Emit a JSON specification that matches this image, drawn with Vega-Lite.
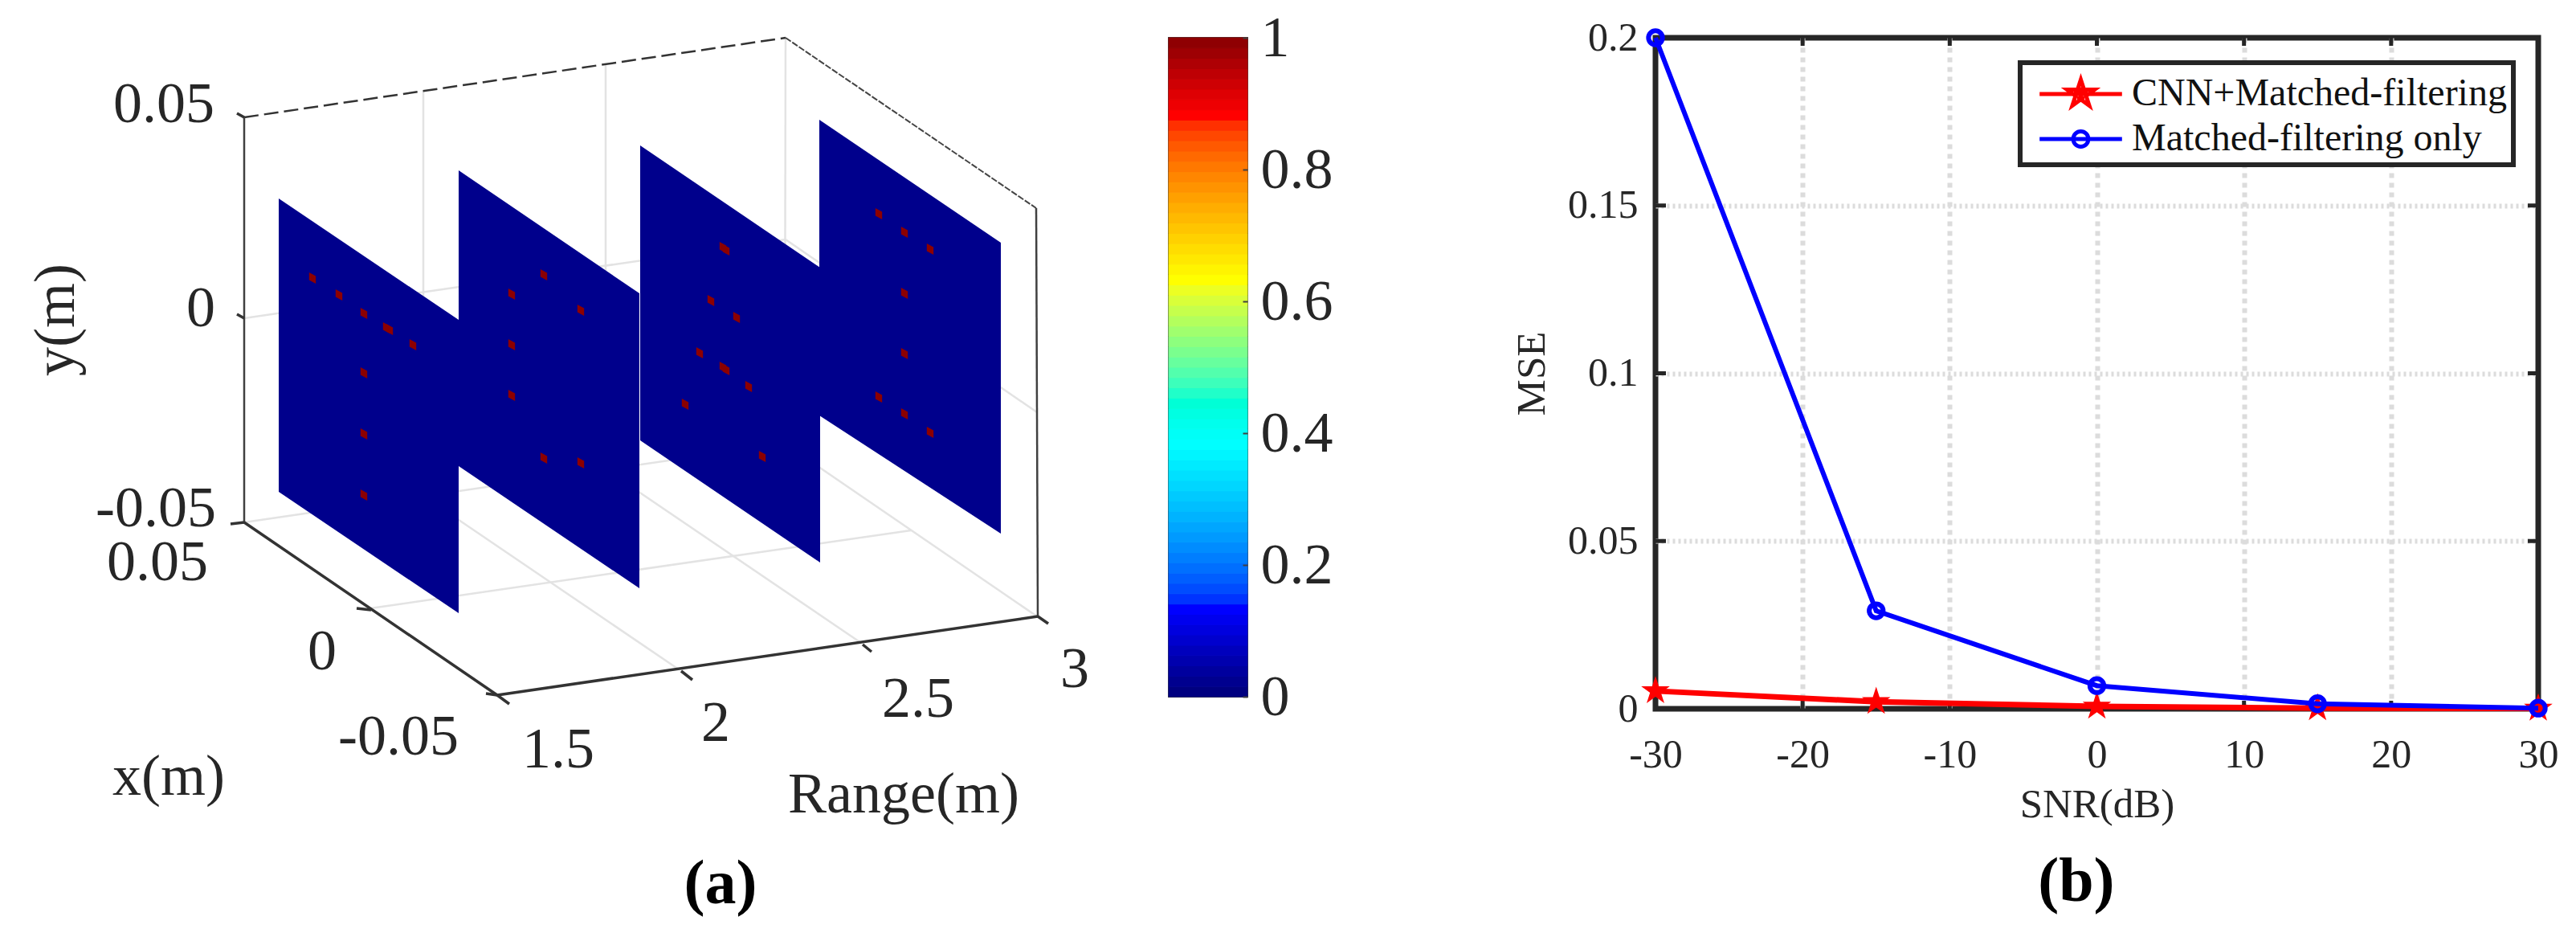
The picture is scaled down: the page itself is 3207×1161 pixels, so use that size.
{"$schema":"https://vega.github.io/schema/vega-lite/v6.json","padding":0,"autosize":{"type":"pad"},"background":"white","config":{"font":"Liberation Serif","legend":{"strokeWidth":6}},"bounds":"flush","spacing":0,"resolve":{"scale":{"color":"independent","shape":"independent"},"legend":{"color":"independent","shape":"independent"}},"hconcat":[{"width":1455,"height":1161,"view":{"stroke":null},"encoding":{"x":{"field":"u","type":"quantitative","scale":{"domain":[0,1455],"nice":false,"zero":false},"axis":null},"y":{"field":"v","type":"quantitative","scale":{"domain":[1161,0],"nice":false,"zero":false},"axis":null}},"layer":[{"data":{"values":[{"u":527,"v":113,"u2":527,"v2":617},{"u":754,"v":80,"u2":754,"v2":584},{"u":978,"v":47,"u2":977,"v2":552},{"u":304,"v":396,"u2":978,"v2":298},{"u":978,"v":298,"u2":1291,"v2":513},{"u":461,"v":757,"u2":1134,"v2":660},{"u":527,"v":617,"u2":845,"v2":833},{"u":754,"v":584,"u2":1072,"v2":800},{"u":304,"v":650,"u2":977,"v2":552},{"u":977,"v":552,"u2":1291,"v2":767}]},"mark":{"type":"rule","color":"#e3e3e3","strokeWidth":2.5},"encoding":{"x2":{"field":"u2"},"y2":{"field":"v2"}}},{"data":{"values":[{"u":304,"v":146,"u2":978,"v2":47}]},"mark":{"type":"rule","color":"#333333","strokeWidth":2.5,"strokeDash":[18,7]},"encoding":{"x2":{"field":"u2"},"y2":{"field":"v2"}}},{"data":{"values":[{"u":978,"v":47,"u2":1290,"v2":259}]},"mark":{"type":"rule","color":"#444444","strokeWidth":2,"strokeDash":[8,2]},"encoding":{"x2":{"field":"u2"},"y2":{"field":"v2"}}},{"data":{"values":[{"u":1290,"v":259,"u2":1292,"v2":767},{"u":304,"v":146,"u2":304,"v2":650}]},"mark":{"type":"rule","color":"#404040","strokeWidth":2.5},"encoding":{"x2":{"field":"u2"},"y2":{"field":"v2"}}},{"data":{"values":[{"u":304,"v":650,"u2":619,"v2":865},{"u":619,"v":865,"u2":1292,"v2":767},{"u":304,"v":146,"u2":295,"v2":141},{"u":304,"v":396,"u2":295,"v2":391},{"u":304,"v":650,"u2":287,"v2":652},{"u":462,"v":759,"u2":444,"v2":757},{"u":619,"v":865,"u2":605,"v2":863},{"u":619,"v":865,"u2":634,"v2":876},{"u":848,"v":835,"u2":862,"v2":846},{"u":1074,"v":802,"u2":1085,"v2":811},{"u":1292,"v":767,"u2":1305,"v2":776}]},"mark":{"type":"rule","color":"#333333","strokeWidth":3.5},"encoding":{"x2":{"field":"u2"},"y2":{"field":"v2"}}},{"data":{"values":[{"plane":1,"u":347,"v":247,"bottom":612},{"plane":1,"u":571,"v":398,"bottom":763},{"plane":2,"u":571,"v":212,"bottom":580},{"plane":2,"u":796,"v":365,"bottom":732},{"plane":3,"u":797,"v":181,"bottom":548},{"plane":3,"u":1021,"v":333,"bottom":700},{"plane":4,"u":1020,"v":149,"bottom":517},{"plane":4,"u":1246,"v":302,"bottom":664}]},"mark":{"type":"area","color":"#00008c"},"encoding":{"y2":{"field":"bottom"},"detail":{"field":"plane"}}},{"data":{"values":[{"u":389,"v":346},{"u":422,"v":367},{"u":453,"v":390},{"u":481,"v":408},{"u":485,"v":410},{"u":514,"v":429},{"u":453,"v":464},{"u":453,"v":540},{"u":453,"v":616},{"u":677,"v":342},{"u":637,"v":366},{"u":723,"v":386},{"u":637,"v":429},{"u":637,"v":492},{"u":677,"v":570},{"u":723,"v":576},{"u":900,"v":308},{"u":904,"v":311},{"u":885,"v":374},{"u":917,"v":395},{"u":871,"v":439},{"u":900,"v":457},{"u":904,"v":460},{"u":932,"v":481},{"u":853,"v":503},{"u":949,"v":568},{"u":1094,"v":266},{"u":1126,"v":289},{"u":1158,"v":310},{"u":1126,"v":365},{"u":1126,"v":440},{"u":1094,"v":494},{"u":1126,"v":515},{"u":1158,"v":538}]},"mark":{"type":"point","filled":true,"opacity":1,"color":"#8c0000","size":70,"shape":"M-1,-1.7L1,-0.6L1,1.7L-1,0.6Z"}},{"data":{"values":[{"label":"0.05","u":204,"v":130},{"label":"0","u":250,"v":384},{"label":"-0.05","u":194,"v":633},{"label":"0.05","u":196,"v":700},{"label":"0","u":401,"v":811},{"label":"-0.05","u":496,"v":917},{"label":"1.5","u":695,"v":933},{"label":"2","u":891,"v":900},{"label":"2.5","u":1143,"v":870},{"label":"3","u":1338,"v":833},{"label":"x(m)","u":210,"v":967},{"label":"Range(m)","u":1125,"v":989}]},"mark":{"type":"text","font":"Liberation Serif","fontSize":72,"color":"#262626","baseline":"middle","align":"center"},"encoding":{"text":{"field":"label"}}},{"data":{"values":[{"label":"y(m)","u":70,"v":398}]},"mark":{"type":"text","font":"Liberation Serif","fontSize":72,"color":"#262626","baseline":"middle","align":"center","angle":270},"encoding":{"text":{"field":"label"}}},{"data":{"values":[{"label":"(a)","u":897,"v":1101}]},"mark":{"type":"text","font":"Liberation Serif","fontSize":78,"fontWeight":"bold","color":"#000000","baseline":"middle","align":"center"},"encoding":{"text":{"field":"label"}}}]},{"bounds":"flush","spacing":0,"resolve":{"scale":{"color":"independent","shape":"independent"},"legend":{"color":"independent","shape":"independent"}},"vconcat":[{"width":10,"height":47,"view":{"stroke":null},"data":{"values":[{"n":1}]},"mark":{"type":"point","opacity":0,"size":0}},{"bounds":"flush","spacing":508,"resolve":{"scale":{"color":"independent","shape":"independent"},"legend":{"color":"independent","shape":"independent"}},"hconcat":[{"width":98,"height":820,"view":{"stroke":"#404040","strokeWidth":2},"data":{"values":[{"lo":0,"hi":0.0156},{"lo":0.0156,"hi":0.0313},{"lo":0.0313,"hi":0.0469},{"lo":0.0469,"hi":0.0625},{"lo":0.0625,"hi":0.0781},{"lo":0.0781,"hi":0.0938},{"lo":0.0938,"hi":0.1094},{"lo":0.1094,"hi":0.125},{"lo":0.125,"hi":0.1406},{"lo":0.1406,"hi":0.1563},{"lo":0.1563,"hi":0.1719},{"lo":0.1719,"hi":0.1875},{"lo":0.1875,"hi":0.2031},{"lo":0.2031,"hi":0.2188},{"lo":0.2188,"hi":0.2344},{"lo":0.2344,"hi":0.25},{"lo":0.25,"hi":0.2656},{"lo":0.2656,"hi":0.2813},{"lo":0.2813,"hi":0.2969},{"lo":0.2969,"hi":0.3125},{"lo":0.3125,"hi":0.3281},{"lo":0.3281,"hi":0.3438},{"lo":0.3438,"hi":0.3594},{"lo":0.3594,"hi":0.375},{"lo":0.375,"hi":0.3906},{"lo":0.3906,"hi":0.4063},{"lo":0.4063,"hi":0.4219},{"lo":0.4219,"hi":0.4375},{"lo":0.4375,"hi":0.4531},{"lo":0.4531,"hi":0.4688},{"lo":0.4688,"hi":0.4844},{"lo":0.4844,"hi":0.5},{"lo":0.5,"hi":0.5156},{"lo":0.5156,"hi":0.5313},{"lo":0.5313,"hi":0.5469},{"lo":0.5469,"hi":0.5625},{"lo":0.5625,"hi":0.5781},{"lo":0.5781,"hi":0.5938},{"lo":0.5938,"hi":0.6094},{"lo":0.6094,"hi":0.625},{"lo":0.625,"hi":0.6406},{"lo":0.6406,"hi":0.6563},{"lo":0.6563,"hi":0.6719},{"lo":0.6719,"hi":0.6875},{"lo":0.6875,"hi":0.7031},{"lo":0.7031,"hi":0.7188},{"lo":0.7188,"hi":0.7344},{"lo":0.7344,"hi":0.75},{"lo":0.75,"hi":0.7656},{"lo":0.7656,"hi":0.7813},{"lo":0.7813,"hi":0.7969},{"lo":0.7969,"hi":0.8125},{"lo":0.8125,"hi":0.8281},{"lo":0.8281,"hi":0.8438},{"lo":0.8438,"hi":0.8594},{"lo":0.8594,"hi":0.875},{"lo":0.875,"hi":0.8906},{"lo":0.8906,"hi":0.9063},{"lo":0.9063,"hi":0.9219},{"lo":0.9219,"hi":0.9375},{"lo":0.9375,"hi":0.9531},{"lo":0.9531,"hi":0.9688},{"lo":0.9688,"hi":0.9844},{"lo":0.9844,"hi":1}]},"mark":{"type":"rect","strokeWidth":1},"encoding":{"y":{"field":"lo","type":"quantitative","scale":{"domain":[0,1],"nice":false,"zero":false},"axis":{"orient":"left","offset":-98,"title":null,"values":[0,0.2,0.4,0.6,0.8,1],"labelExpr":"'' + datum.value","domain":false,"grid":false,"tickSize":6,"tickWidth":2,"tickColor":"#404040","zindex":1,"labelPadding":-22,"labelFont":"Liberation Serif","labelFontSize":72,"labelColor":"#262626","labelBaseline":"middle","labelAlign":"left","labelOverlap":false,"labelBound":false,"labelFlush":false}},"y2":{"field":"hi"},"color":{"field":"lo","type":"quantitative","legend":null,"scale":{"domain":[0,0.125,0.375,0.625,0.875,1],"range":["#000080","#0000ff","#00ffff","#ffff00","#ff0000","#800000"]}},"stroke":{"field":"lo","type":"quantitative","legend":null,"scale":{"domain":[0,0.125,0.375,0.625,0.875,1],"range":["#000080","#0000ff","#00ffff","#ffff00","#ff0000","#800000"]}}}},{"width":1099,"height":835,"view":{"stroke":"#262626","strokeWidth":7},"data":{"values":[{"series":"CNN+Matched-filtering","snr":-30,"mse":0.0053},{"series":"CNN+Matched-filtering","snr":-15,"mse":0.0021},{"series":"CNN+Matched-filtering","snr":0,"mse":0.0007},{"series":"CNN+Matched-filtering","snr":15,"mse":0.0002},{"series":"CNN+Matched-filtering","snr":30,"mse":0.0001},{"series":"Matched-filtering only","snr":-30,"mse":0.2},{"series":"Matched-filtering only","snr":-15,"mse":0.0292},{"series":"Matched-filtering only","snr":0,"mse":0.0069},{"series":"Matched-filtering only","snr":15,"mse":0.0015},{"series":"Matched-filtering only","snr":30,"mse":0.0002}]},"resolve":{"axis":{"x":"independent","y":"independent"}},"layer":[{"mark":{"type":"rule","opacity":0},"encoding":{"x":{"field":"snr","type":"quantitative","scale":{"domain":[-30,30],"nice":false,"zero":false},"axis":{"orient":"bottom","title":null,"values":[-20,-10,0,10,20],"labels":false,"ticks":false,"domain":false,"grid":true,"gridColor":"#dcdcdc","gridWidth":6,"gridDash":[6,6]}},"y":{"field":"mse","type":"quantitative","scale":{"domain":[0,0.2],"nice":false,"zero":false},"axis":{"orient":"left","title":null,"values":[0.05,0.1,0.15],"labels":false,"ticks":false,"domain":false,"grid":true,"gridColor":"#dcdcdc","gridWidth":6,"gridDash":[3,4]}}}},{"mark":{"type":"rule","opacity":0},"encoding":{"x":{"field":"snr","type":"quantitative","axis":{"orient":"bottom","title":"SNR(dB)","values":[-30,-20,-10,0,10,20,30],"labelExpr":"'' + datum.value","domain":false,"grid":false,"ticks":false,"labelPadding":32,"labelFont":"Liberation Serif","labelFontSize":50,"labelColor":"#262626","labelOverlap":false,"labelFlush":false,"titleFont":"Liberation Serif","titleFontSize":51,"titleFontWeight":"normal","titleColor":"#262626","titlePadding":12}},"y":{"field":"mse","type":"quantitative","axis":{"orient":"left","title":"MSE","values":[0,0.05,0.1,0.15,0.2],"labelExpr":"'' + datum.value","domain":false,"grid":false,"ticks":false,"labelPadding":22,"labelFont":"Liberation Serif","labelFontSize":50,"labelColor":"#262626","labelBaseline":"middle","labelOverlap":false,"labelFlush":false,"titleFont":"Liberation Serif","titleFontSize":51,"titleFontWeight":"normal","titleColor":"#262626","titlePadding":18}}}},{"data":{"values":[{"snr":-20,"mse":0,"snr2":-20,"mse2":0.0024},{"snr":-10,"mse":0,"snr2":-10,"mse2":0.0024},{"snr":0,"mse":0,"snr2":0,"mse2":0.0024},{"snr":10,"mse":0,"snr2":10,"mse2":0.0024},{"snr":20,"mse":0,"snr2":20,"mse2":0.0024},{"snr":-20,"mse":0.2,"snr2":-20,"mse2":0.1976},{"snr":-10,"mse":0.2,"snr2":-10,"mse2":0.1976},{"snr":0,"mse":0.2,"snr2":0,"mse2":0.1976},{"snr":10,"mse":0.2,"snr2":10,"mse2":0.1976},{"snr":20,"mse":0.2,"snr2":20,"mse2":0.1976},{"snr":-30,"mse":0.05,"snr2":-29.29,"mse2":0.05},{"snr":-30,"mse":0.1,"snr2":-29.29,"mse2":0.1},{"snr":-30,"mse":0.15,"snr2":-29.29,"mse2":0.15},{"snr":30,"mse":0.05,"snr2":29.29,"mse2":0.05},{"snr":30,"mse":0.1,"snr2":29.29,"mse2":0.1},{"snr":30,"mse":0.15,"snr2":29.29,"mse2":0.15}]},"mark":{"type":"rule","color":"#262626","strokeWidth":5},"encoding":{"x":{"field":"snr","type":"quantitative","axis":null},"x2":{"field":"snr2"},"y":{"field":"mse","type":"quantitative","axis":null},"y2":{"field":"mse2"}}},{"mark":{"type":"point","size":0,"filled":false,"opacity":0},"encoding":{"x":{"field":"snr","type":"quantitative","axis":null},"y":{"field":"mse","type":"quantitative","axis":null},"color":{"field":"series","type":"nominal","scale":{"domain":["CNN+Matched-filtering","Matched-filtering only"],"range":["#ff0000","#0000ff"]},"legend":{"title":null,"orient":"none","legendX":454,"legendY":31,"fillColor":"#ffffff","strokeColor":"#262626","padding":8,"rowPadding":0,"symbolSize":3249,"symbolStrokeWidth":5,"symbolOpacity":1,"symbolFillColor":"transparent","symbolOffset":36.5,"labelOffset":32.5,"labelFont":"Liberation Serif","labelFontSize":48,"labelColor":"#111111","labelLimit":700}},"shape":{"field":"series","type":"nominal","scale":{"domain":["CNN+Matched-filtering","Matched-filtering only"],"range":["M-1.8,0L1.8,0M0,-0.63L0.141,-0.195L0.6,-0.195L0.229,0.074L0.37,0.51L0,0.24L-0.37,0.51L-0.229,0.074L-0.6,-0.195L-0.141,-0.195ZM0,-0.3L0,0.3M-0.3,-0.1L0.3,-0.1M-0.16,0.18L0.16,0.18","M-1.8,0L1.8,0M0.33,0A0.33,0.33 0 1 1 -0.33,0A0.33,0.33 0 1 1 0.33,0Z"]},"legend":{"title":null,"orient":"none","legendX":454,"legendY":31,"fillColor":"#ffffff","strokeColor":"#262626","padding":8,"rowPadding":0,"symbolSize":3249,"symbolStrokeWidth":5,"symbolOpacity":1,"symbolFillColor":"transparent","symbolOffset":36.5,"labelOffset":32.5,"labelFont":"Liberation Serif","labelFontSize":48,"labelColor":"#111111","labelLimit":700}}}},{"transform":[{"filter":"datum.series === 'CNN+Matched-filtering'"}],"mark":{"type":"line","color":"#ff0000","strokeWidth":7},"encoding":{"x":{"field":"snr","type":"quantitative","axis":null},"y":{"field":"mse","type":"quantitative","axis":null}}},{"transform":[{"filter":"datum.series === 'CNN+Matched-filtering'"}],"mark":{"type":"point","filled":true,"opacity":1,"color":"#ff0000","size":1400,"shape":"M0,-1L0.2245,-0.309L0.951,-0.309L0.363,0.118L0.588,0.809L0,0.382L-0.588,0.809L-0.363,0.118L-0.951,-0.309L-0.2245,-0.309Z"},"encoding":{"x":{"field":"snr","type":"quantitative","axis":null},"y":{"field":"mse","type":"quantitative","axis":null}}},{"transform":[{"filter":"datum.series === 'Matched-filtering only'"}],"mark":{"type":"line","color":"#0000ff","strokeWidth":6},"encoding":{"x":{"field":"snr","type":"quantitative","axis":null},"y":{"field":"mse","type":"quantitative","axis":null}}},{"transform":[{"filter":"datum.series === 'Matched-filtering only'"}],"mark":{"type":"point","filled":false,"opacity":1,"color":"#0000ff","size":300,"strokeWidth":6},"encoding":{"x":{"field":"snr","type":"quantitative","axis":null},"y":{"field":"mse","type":"quantitative","axis":null}}},{"data":{"values":[{"snr":-1.4,"mse":-0.0517,"label":"(b)"}]},"mark":{"type":"text","font":"Liberation Serif","fontSize":78,"fontWeight":"bold","color":"#000000","baseline":"middle","align":"center"},"encoding":{"x":{"field":"snr","type":"quantitative","axis":null},"y":{"field":"mse","type":"quantitative","axis":null},"text":{"field":"label"}}}]}]}]}]}
